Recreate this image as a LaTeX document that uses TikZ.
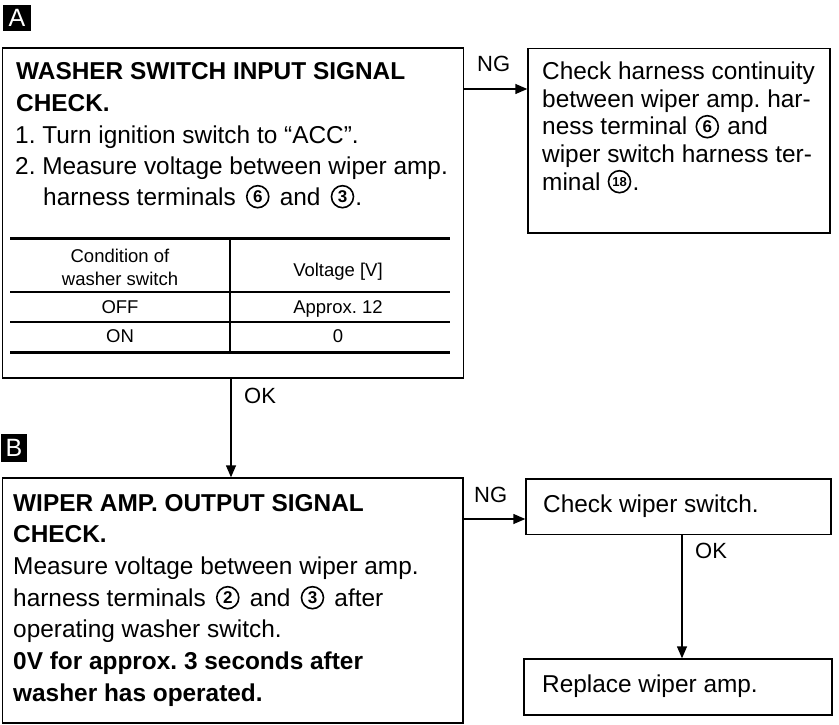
\documentclass[tikz,border=0pt]{standalone}
\usepackage{fontspec}
\setmainfont{Liberation Sans}
\usetikzlibrary{arrows.meta,calc}
\frenchspacing
\tikzset{
  box/.style={draw, line width=1.4pt, rectangle, inner sep=0pt},
  txt/.style={anchor=base west, inner sep=0pt, font=\fontsize{24.4}{24.4}\selectfont},
  btxt/.style={anchor=base west, inner sep=0pt, font=\fontsize{24.4}{24.4}\selectfont\bfseries},
  cnum/.style={circle, draw, line width=1.6pt, minimum size=22pt, inner sep=0pt, anchor=west, font=\fontsize{17}{17}\selectfont\bfseries},
  cnumsmall/.style={cnum, font=\fontsize{13}{13}\selectfont\bfseries},
  tbl/.style={anchor=base, inner sep=0pt, font=\fontsize{18.5}{18.5}\selectfont},
  lbl/.style={anchor=base west, inner sep=0pt, font=\fontsize{22}{22}\selectfont},
  conn/.style={line width=1.4pt, -{Triangle[length=12pt,width=10pt]}},
  tag/.style={fill=black, text=white, inner sep=0pt, font=\fontsize{25}{25}\selectfont},
  thick rule/.style={line width=3pt},
  thin rule/.style={line width=1.3pt},
}
\begin{document}
\begin{tikzpicture}[x=1pt,y=-1pt]
\useasboundingbox (0,0) rectangle (839,725);

% section tags
\node[tag, minimum width=28pt, minimum height=26pt] (tagA) at (17,18) {A};
\node[tag, minimum width=26pt, minimum height=28pt] (tagB) at (14,448) {B};

% boxes
\node[box, minimum width=461pt, minimum height=330pt] (boxA) at (233,213) {};
\node[box, minimum width=460.5pt, minimum height=245pt] (boxB) at (232.75,600.5) {};
\node[box, minimum width=302pt, minimum height=184.5pt] (boxC) at (679,140.75) {};
\node[box, minimum width=305pt, minimum height=55.5pt] (boxD) at (678.5,506.75) {};
\node[box, minimum width=308pt, minimum height=56pt] (boxE) at (678,687) {};

% box A text
\node[btxt] (a1) at (16,80) {WASHER SWITCH INPUT SIGNAL};
\node[btxt] (a2) at (16,112) {CHECK.};
\node[txt] (a3) at (15,143) {1. Turn ignition switch to “ACC”.};
\node[txt] (a4) at (15,175) {2. Measure voltage between wiper amp.};
\node[txt] (a5a) at (43,205) {harness terminals};
\node[cnum] (a5c1) at ($(a5a.base east)+(10,-8.3)$) {6};
\node[txt] (a5b) at ($(a5c1.east)+(10,8.3)$) {and};
\node[cnum] (a5c2) at ($(a5b.base east)+(10,-8.3)$) {3};
\node[txt] (a5d) at ($(a5c2.east)+(1,8.3)$) {.};

% table
\draw[thick rule] (10,238) -- (450,238);
\draw[thin rule] (10,292) -- (450,292);
\draw[thin rule] (10,322) -- (450,322);
\draw[thick rule] (10,352) -- (450,352);
\draw[thin rule] (230,238) -- (230,352);
\node[tbl] (h1) at (120,262) {Condition of};
\node[tbl] (h2) at (120,285) {washer switch};
\node[tbl] (h3) at (338,276) {Voltage [V]};
\node[tbl] (r1a) at (120,313) {OFF};
\node[tbl] (r1b) at (338,313) {Approx. 12};
\node[tbl] (r2a) at (120,342) {ON};
\node[tbl] (r2b) at (338,342) {0};

% box C text
\node[txt] (c1) at (542,80) {Check harness continuity};
\node[txt] (c2) at (542,107.5) {between wiper amp. har-};
\node[txt] (c3a) at (542,135) {ness terminal};
\node[cnum] (c3c) at ($(c3a.base east)+(8,-8.3)$) {6};
\node[txt] (c3b) at ($(c3c.east)+(8,8.3)$) {and};
\node[txt] (c4) at (542,162.5) {wiper switch harness ter-};
\node[txt] (c5a) at (542,190) {minal};
\node[cnumsmall] (c5c) at ($(c5a.base east)+(7,-8.3)$) {18};
\node[txt] (c5b) at ($(c5c.east)+(1,8.3)$) {.};

% box B text
\node[btxt] (b1) at (13,511) {WIPER AMP. OUTPUT SIGNAL};
\node[btxt] (b2) at (13,542) {CHECK.};
\node[txt] (b3) at (13,574) {Measure voltage between wiper amp.};
\node[txt] (b4a) at (13,606) {harness terminals};
\node[cnum] (b4c1) at ($(b4a.base east)+(10,-8.3)$) {2};
\node[txt] (b4b) at ($(b4c1.east)+(10,8.3)$) {and};
\node[cnum] (b4c2) at ($(b4b.base east)+(10,-8.3)$) {3};
\node[txt] (b4d) at ($(b4c2.east)+(10,8.3)$) {after};
\node[txt] (b5) at (13,637) {operating washer switch.};
\node[btxt] (b6) at (13,669) {0V for approx. 3 seconds after};
\node[btxt] (b7) at (13,701) {washer has operated.};

% box D, E text
\node[txt] (d1) at (543,512) {Check wiper switch.};
\node[txt] (e1) at (542,692) {Replace wiper amp.};

% connectors
\coordinate (ng1) at (0,89);
\coordinate (ok1) at (231,0);
\coordinate (ng2) at (0,519);
\coordinate (ok2) at (682,0);
\draw[conn] (boxA.east |- ng1) -- (boxC.west |- ng1);
\draw[conn] (boxA.south -| ok1) -- (boxB.north -| ok1);
\draw[conn] (boxB.east |- ng2) -- (boxD.west |- ng2);
\draw[conn] (boxD.south -| ok2) -- (boxE.north -| ok2);

% connector labels
\node[lbl] (lng1) at (477,72) {NG};
\node[lbl] (lok1) at (244,403) {OK};
\node[lbl] (lng2) at (474,502) {NG};
\node[lbl] (lok2) at (695,558) {OK};
\end{tikzpicture}
\end{document}
